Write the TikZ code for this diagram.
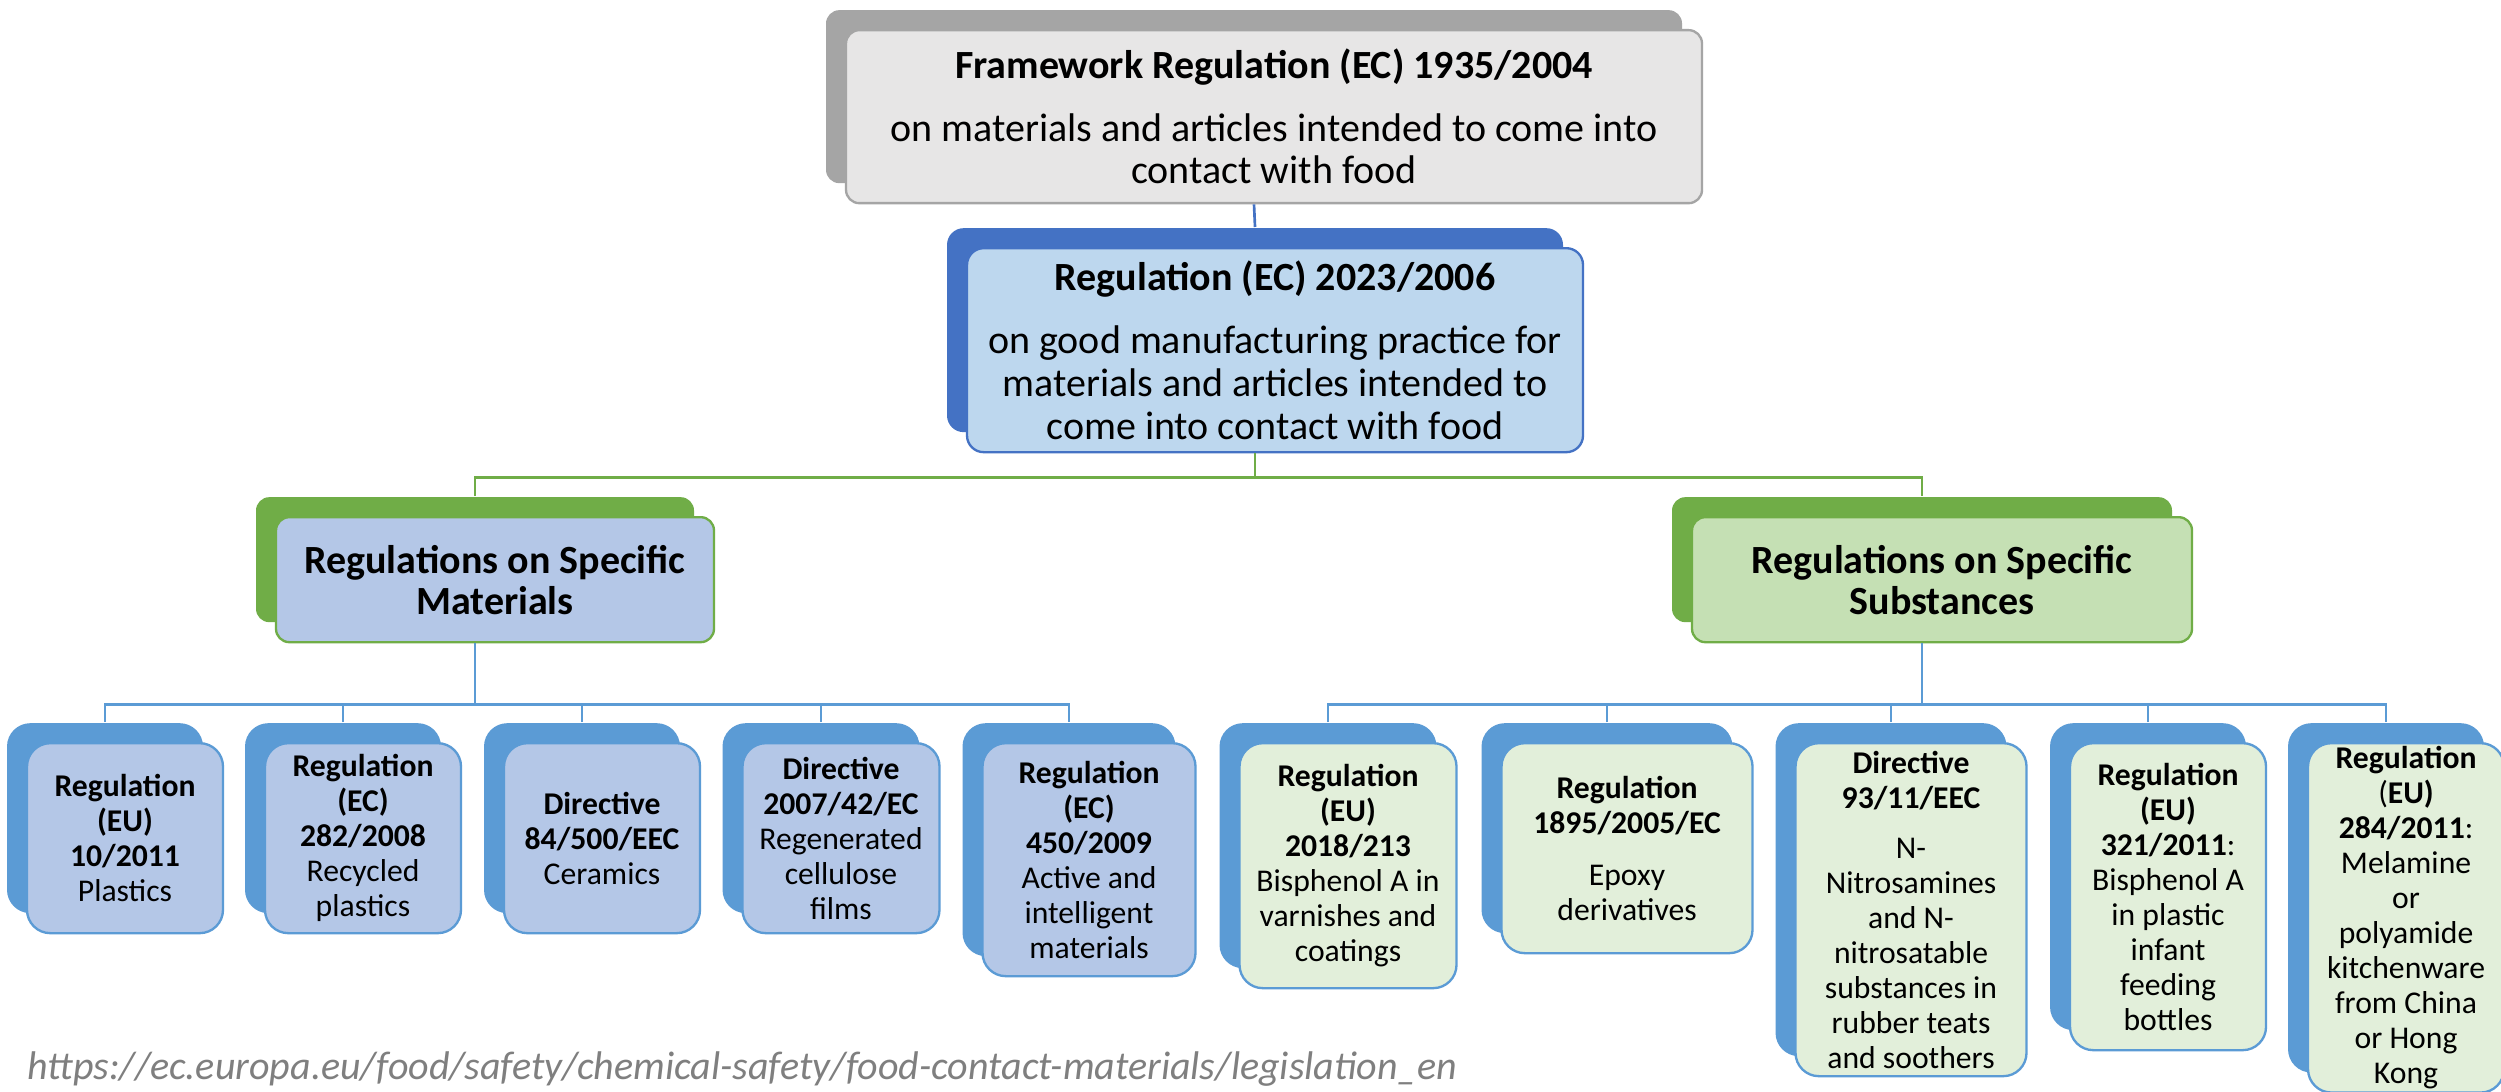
\documentclass[tikz,border=0pt]{standalone}
\usepackage{fontspec}
\setmainfont{Carlito}
\usetikzlibrary{shadows}
\definecolor{fwgrey}{RGB}{165,165,165}
\definecolor{fwsoft}{RGB}{231,230,230}
\definecolor{gmpdark}{RGB}{68,114,196}
\definecolor{gmpsoft}{RGB}{189,215,238}
\definecolor{catgreen}{RGB}{112,173,71}
\definecolor{matsoft}{RGB}{180,199,231}
\definecolor{subsoft}{RGB}{197,224,180}
\definecolor{leafblue}{RGB}{91,155,213}
\definecolor{leafsoft}{RGB}{226,239,218}
\definecolor{urlgrey}{RGB}{127,127,127}
\tikzset{
  backcopy/.style={copy shadow={shadow xshift=-6pt, shadow yshift=6pt, fill=#1,
                   draw=none, opacity=1}},
  card/.style={rectangle, align=center, inner sep=1pt, line width=0.7pt, anchor=north},
  fwbox/.style={card, draw=fwgrey, fill=fwsoft, rounded corners=4pt, backcopy=fwgrey,
                minimum width=256.8pt, minimum height=51.9pt,
                font=\fontsize{12}{12.6}\selectfont},
  gmpbox/.style={card, draw=gmpdark, fill=gmpsoft, rounded corners=5pt, backcopy=gmpdark,
                 minimum width=184.8pt, minimum height=61.2pt,
                 font=\fontsize{12}{12.9}\selectfont},
  catbox/.style={card, draw=catgreen, rounded corners=4pt, backcopy=catgreen,
                 minimum height=37.5pt, font=\bfseries\fontsize{12}{12.3}\selectfont},
  leaf/.style={card, draw=leafblue, rounded corners=7pt, backcopy=leafblue,
               font=\fontsize{9.5}{10.5}\selectfont},
  link/.style={line width=0.8pt},
}
\begin{document}
\begin{tikzpicture}[x=0.3pt, y=-0.3pt]
  \useasboundingbox (0,0) rectangle (2501,1091);
  \clip (0,0) rectangle (2501,1091);
  \fill[white] (0,0) rectangle (2501,1091);

  \node[fwbox] (fw) at (1274,29)
    {\textbf{Framework Regulation (EC) 1935/2004}\\[6.3pt]on materials and articles intended to come into\\contact with food};
  \node[gmpbox] (gmp) at (1275,247)
    {\textbf{Regulation (EC) 2023/2006}\\[6pt]on good manufacturing practice for\\materials and articles intended to\\come into contact with food};
  \node[catbox, fill=matsoft, minimum width=131.4pt] (mat) at (495,516)
    {Regulations on Specific\\Materials};
  \node[catbox, fill=subsoft, minimum width=150pt] (sub) at (1942,516)
    {Regulations on Specific\\Substances};

  \node[leaf, fill=matsoft, minimum width=58.8pt, minimum height=57pt] (m1) at (125,742)
    {\textbf{Regulation}\\\textbf{(EU)}\\\textbf{10/2011}\\Plastics};
  \node[leaf, fill=matsoft, minimum width=58.8pt, minimum height=57pt] (m2) at (363,742)
    {\textbf{Regulation}\\\textbf{(EC)}\\\textbf{282/2008}\\Recycled\\plastics};
  \node[leaf, fill=matsoft, minimum width=58.8pt, minimum height=57pt] (m3) at (602,742)
    {\textbf{Directive}\\\textbf{84/500/EEC}\\Ceramics};
  \node[leaf, fill=matsoft, minimum width=59.1pt, minimum height=57pt] (m4) at (841,742)
    {\textbf{Directive}\\\textbf{2007/42/EC}\\Regenerated\\cellulose\\films};
  \node[leaf, fill=matsoft, minimum width=63.9pt, minimum height=69.9pt] (m5) at (1089,742)
    {\textbf{Regulation}\\\textbf{(EC)}\\\textbf{450/2009}\\Active and\\intelligent\\materials};

  \node[leaf, fill=leafsoft, minimum width=65.1pt, minimum height=73.5pt] (s1) at (1348,742)
    {\textbf{Regulation}\\\textbf{(EU)}\\\textbf{2018/213}\\Bisphenol A in\\varnishes and\\coatings};
  \node[leaf, fill=leafsoft, minimum width=75.3pt, minimum height=63pt] (s2) at (1627,742)
    {\textbf{Regulation}\\\textbf{1895/2005/EC}\\[5pt]Epoxy\\derivatives};
  \node[leaf, fill=leafsoft, minimum width=69.3pt, minimum height=99.9pt] (s3) at (1911,742)
    {\textbf{Directive}\\\textbf{93/11/EEC}\\[4.5pt]N-\\Nitrosamines\\and N-\\nitrosatable\\substances in\\rubber teats\\and soothers};
  \node[leaf, fill=leafsoft, minimum width=58.8pt, minimum height=92.1pt] (s4) at (2168,742)
    {\textbf{Regulation}\\\textbf{(EU)}\\\textbf{321/2011}:\\Bisphenol A\\in plastic\\infant\\feeding\\bottles};
  \node[leaf, fill=leafsoft, minimum width=58.8pt, minimum height=104.7pt] (s5) at (2406,742)
    {\textbf{Regulation}\\(\textbf{EU)}\\\textbf{284/2011}:\\Melamine\\or\\polyamide\\kitchenware\\from China\\or Hong\\Kong};

  \coordinate (busc) at ([shift={(-6pt,-7.2pt)}]gmp.south);
  \coordinate (busm) at ([shift={(-6pt,-18.3pt)}]mat.south);
  \coordinate (buss) at ([shift={(-6pt,-18.3pt)}]sub.south);

  \draw[link, gmpdark] ([xshift=-6pt]fw.south) -- ([shift={(-6pt,6pt)}]gmp.north);
  \draw[link, catgreen] ([xshift=-6pt]gmp.south) -- (busc);
  \draw[link, catgreen] ([shift={(-6pt,6pt)}]mat.north) |- (busc) -| ([shift={(-6pt,6pt)}]sub.north);
  \draw[link, leafblue] ([xshift=-6pt]mat.south) -- (busm);
  \draw[link, leafblue] ([xshift=-6pt]sub.south) -- (buss);
  \foreach \i in {1,...,5} {
    \draw[link, leafblue] ([shift={(-6pt,6pt)}]m\i.north) |- (busm);
    \draw[link, leafblue] ([shift={(-6pt,6pt)}]s\i.north) |- (buss);
  }

  \node[font=\itshape\fontsize{12}{14}\selectfont, text=urlgrey, anchor=base west, inner sep=0pt]
    (src) at (27,1079) {https://ec.europa.eu/food/safety/chemical-safety/food-contact-materials/legislation\_en};
\end{tikzpicture}
\end{document}
